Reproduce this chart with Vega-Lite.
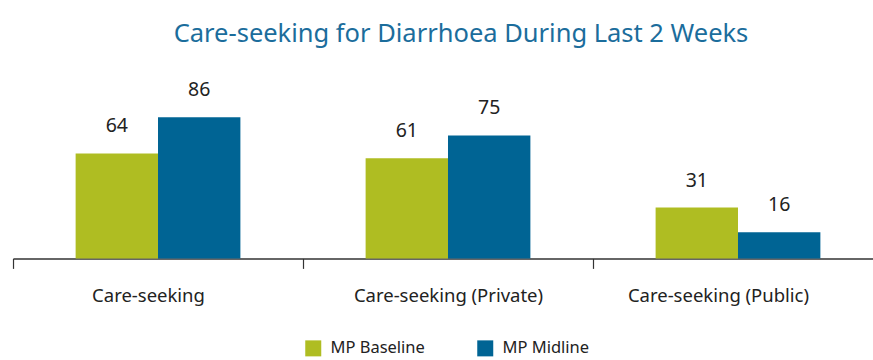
{
  "$schema": "https://vega.github.io/schema/vega-lite/v6.json",
  "width": 870,
  "height": 180.4,
  "padding": {"left": 12, "top": 22, "right": 0, "bottom": 0},
  "autosize": {"type": "pad"},
  "background": "white",
  "title": {
    "text": "Care-seeking for Diarrhoea During Last 2 Weeks",
    "font": "Noto Sans",
    "fontSize": 25.5,
    "fontWeight": "normal",
    "color": "#1B6D9C",
    "anchor": "middle",
    "dx": 13,
    "offset": 30
  },
  "data": {
    "values": [
      {"category": "Care-seeking", "series": "MP Baseline", "value": 64},
      {"category": "Care-seeking", "series": "MP Midline", "value": 86},
      {"category": "Care-seeking (Private)", "series": "MP Baseline", "value": 61},
      {"category": "Care-seeking (Private)", "series": "MP Midline", "value": 75},
      {"category": "Care-seeking (Public)", "series": "MP Baseline", "value": 31},
      {"category": "Care-seeking (Public)", "series": "MP Midline", "value": 16}
    ]
  },
  "encoding": {
    "x": {
      "field": "category",
      "type": "nominal",
      "sort": null,
      "scale": {"paddingInner": 0, "paddingOuter": 0},
      "axis": {
        "title": null,
        "labelAngle": 0,
        "tickBand": "extent",
        "domainColor": "#333333",
        "domainWidth": 1.5,
        "tickColor": "#333333",
        "tickWidth": 1.2,
        "tickSize": 10,
        "labelPadding": 18,
        "labelFont": "Noto Sans",
        "labelFontSize": 18.5,
        "labelColor": "#222222",
        "labelLimit": 400,
        "labelOffset": {"expr": "datum.value == 'Care-seeking' ? -10 : datum.value == 'Care-seeking (Public)' ? -20 : 0"},
        "grid": false
      }
    },
    "xOffset": {
      "field": "series",
      "type": "nominal",
      "scale": {"paddingInner": 0, "paddingOuter": 0.76}
    },
    "y": {
      "field": "value",
      "type": "quantitative",
      "scale": {"domain": [0, 110]},
      "axis": null
    }
  },
  "layer": [
    {
      "mark": {"type": "bar"},
      "encoding": {
        "color": {
          "field": "series",
          "type": "nominal",
          "scale": {"domain": ["MP Baseline", "MP Midline"], "range": ["#AFBD22", "#006494"]},
          "legend": {
            "title": null,
            "orient": "none",
            "legendX": 292,
            "legendY": 262,
            "direction": "horizontal",
            "symbolType": "square",
            "symbolSize": 256,
            "symbolStrokeWidth": 0,
            "symbolOpacity": 1,
            "labelFont": "Noto Sans",
            "labelFontSize": 16.5,
            "labelColor": "#222222",
            "labelOffset": 9,
            "columnPadding": 52
          }
        }
      }
    },
    {
      "mark": {"type": "text", "baseline": "alphabetic", "dy": -21, "font": "Noto Sans", "fontSize": 19.5, "color": "#222222"},
      "encoding": {
        "text": {"field": "value", "type": "quantitative"}
      }
    }
  ],
  "config": {"view": {"stroke": null}}
}
